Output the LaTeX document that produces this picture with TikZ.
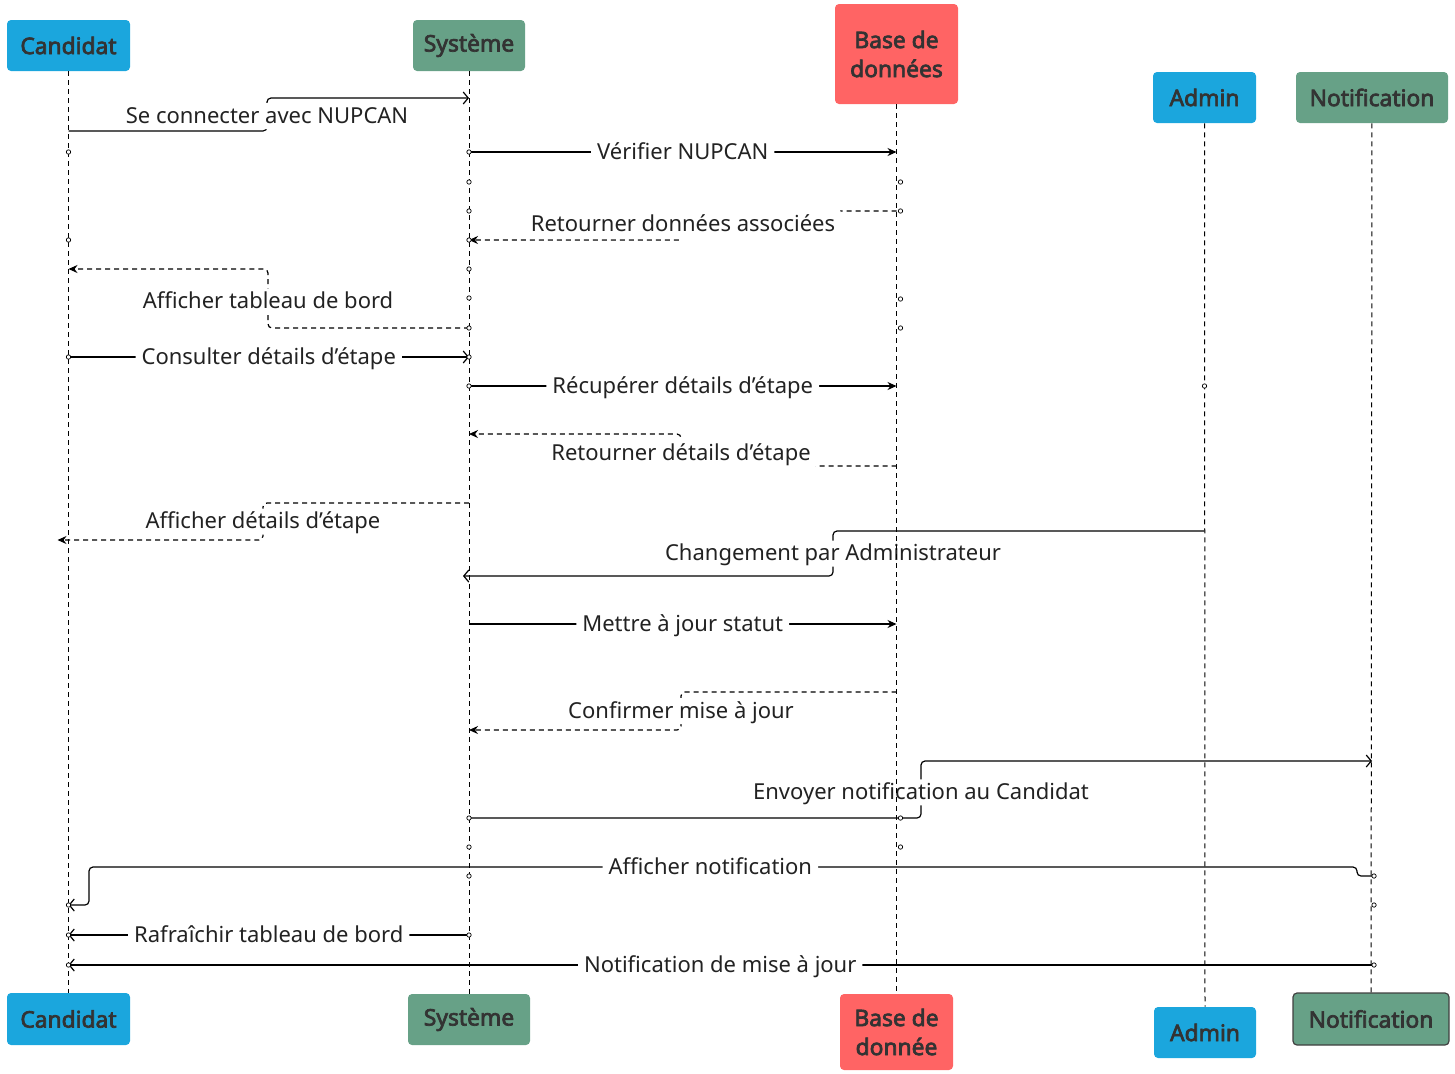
\documentclass[tikz,border=0pt]{standalone}
\usepackage{fontspec}
\setmainfont{Noto Sans}[AutoFakeBold=3]
\usetikzlibrary{arrows.meta}

\definecolor{candblue}{HTML}{1BA6DD}
\definecolor{sysgreen}{HTML}{67A187}
\definecolor{dbred}{HTML}{FF6464}
\definecolor{actortext}{HTML}{333333}
\definecolor{labeltext}{HTML}{222222}

\tikzset{
  actor/.style={rectangle, rounded corners=2pt, inner sep=0pt, align=center,
    font=\bfseries\fontsize{11.4}{14.5}\selectfont, text=actortext},
  lifeline/.style={line width=0.5pt, dash pattern=on 2.5pt off 2pt},
  msg/.style={line width=0.6pt, rounded corners=2pt},
  reply/.style={msg, dash pattern=on 2.5pt off 2pt},
  filltip/.style={-{Stealth[length=4.5pt,width=4pt]}},
  opentip/.style={-{Straight Barb[length=2.5pt,width=6pt]}},
  lbl/.style={fill=white, text=labeltext, font=\fontsize{11}{13}\selectfont,
    inner xsep=3pt, inner ysep=0.5pt, text height=9.5pt, text depth=2.5pt},
  dot/.style={circle, draw, fill=white, inner sep=0pt, minimum size=2.2pt, line width=0.35pt}
}

\begin{document}
\begin{tikzpicture}[x=0.5pt, y=-0.5pt]
    \useasboundingbox (0,0) rectangle (1455,1073);

    % Actors (top)
    \node[actor, fill=candblue, minimum width=61.5pt, minimum height=25.5pt] (cand1) at (68.5,45.5) {Candidat};
    \node[actor, fill=sysgreen, minimum width=56pt, minimum height=25.5pt] (sys1) at (469,45.5) {\raisebox{-1pt}{Système}};
    \node[actor, fill=dbred, minimum width=61.5pt, minimum height=50pt] (bdd1) at (896.5,54) {Base de\\données};
    \node[actor, fill=candblue, minimum width=51.5pt, minimum height=25.5pt] (adm1) at (1204.5,97.5) {Admin};
    \node[actor, fill=sysgreen, minimum width=76pt, minimum height=25.5pt] (notif1) at (1372,97.5) {Notification};

    % Actors (bottom)
    \node[actor, fill=candblue, minimum width=61.5pt, minimum height=26pt] (cand2) at (68.5,1019) {Candidat};
    \node[actor, fill=sysgreen, minimum width=61pt, minimum height=25.5pt] (sys2) at (469,1019.5) {\raisebox{-1pt}{Système}};
    \node[actor, fill=dbred, minimum width=56.5pt, minimum height=38pt] (bdd2) at (896.5,1032) {Base de\\donnée};
    \node[actor, fill=candblue, minimum width=51pt, minimum height=25.5pt] (adm2) at (1205,1032.5) {Admin};
    \node[actor, fill=sysgreen, draw=black!75, line width=0.6pt, minimum width=78pt, minimum height=26pt] (notif2) at (1371,1019) {Notification};

    % Connexion et tableau de bord
    \draw[msg, opentip] (cand1 |- 0,131) -- (267,131) -- node[lbl, pos=0.45] {Se connecter avec NUPCAN} (267,98) -- (sys1 |- 0,98);
    \draw[msg, filltip] (sys1 |- 0,152) -- node[lbl, midway] {Vérifier NUPCAN} (bdd1 |- 0,152);
    \draw[reply, filltip] (bdd1 |- 0,211) -- (683,211) -- node[lbl, pos=0.45, inner ysep=1.5pt] {Retourner données associées} (683,240) -- (sys1 |- 0,240);
    \draw[reply, filltip] (sys1 |- 0,328) -- (268,328) -- node[lbl, pos=0.45] {Afficher tableau de bord} (268,269) -- (cand1 |- 0,269);

    % Détails d'étape
    \draw[msg, opentip] (cand1 |- 0,357) -- node[lbl, midway] {Consulter détails d’étape} (sys1 |- 0,357);
    \draw[msg, filltip] (sys1 |- 0,386) -- node[lbl, midway] {Récupérer détails d’étape} (bdd1 |- 0,386);
    \draw[reply, filltip] (bdd1 |- 0,466) -- (681,466) -- node[lbl, pos=0.4, inner ysep=1.5pt] {Retourner détails d’étape} (681,434) -- (sys1 |- 0,434);
    \draw[reply, filltip, shorten >=-5.5pt] (sys1 |- 0,503) -- (263,503) -- node[lbl, midway] {Afficher détails d’étape} (263,540) -- (cand1 |- 0,540);

    % Changement par l'administrateur
    \draw[msg, opentip, shorten >=-3pt] (adm1 |- 0,531) -- (833,531) -- node[lbl, midway] {Changement par Administrateur} (833,576) -- (sys1 |- 0,576);
    \draw[msg, filltip] (sys1 |- 0,624) -- node[lbl, midway] {Mettre à jour statut} (bdd1 |- 0,624);
    \draw[reply, filltip] (bdd1 |- 0,692) -- (681,692) -- node[lbl, midway] {Confirmer mise à jour} (681,730) -- (sys1 |- 0,730);

    % Notifications
    \draw[msg, opentip] (sys1 |- 0,818) -- (921,818) -- node[lbl, pos=0.45] {Envoyer notification au Candidat} (921,761) -- (notif1 |- 0,761);
    \draw[msg, opentip] (notif1 |- 0,876) -- (1357,876) -- (1357,867) -- node[lbl, pos=0.51] {Afficher notification} (89,867) -- (89,905) -- (cand1 |- 0,905);
    \draw[msg, opentip] (sys1 |- 0,935) -- node[lbl, midway] {Rafraîchir tableau de bord} (cand1 |- 0,935);
    \draw[msg, opentip] (notif1 |- 0,965) -- node[lbl, midway] {Notification de mise à jour} (cand1 |- 0,965);

    % Lifelines
    \draw[lifeline] (cand1) -- (cand2);
    \draw[lifeline] (sys1) -- (sys2);
    \draw[lifeline] (bdd1) -- (bdd2);
    \draw[lifeline] (adm1) -- (adm2);
    \draw[lifeline] (notif1) -- (notif2);

    % Points d'activation
    \foreach \y in {152,240,357,905,935,965}
        \node[dot] at (cand1 |- 0,\y) {};
    \foreach \y in {152,182,211,240,269,298,328,357,386,818,847,876,935}
        \node[dot] at (sys1 |- 0,\y) {};
    \foreach \y in {182,211,299,328,818,847}
        \node[dot] at ([xshift=2pt]bdd1 |- 0,\y) {};
    \node[dot] at (adm1 |- 0,386) {};
    \foreach \y in {876,905,965}
        \node[dot] at ([xshift=1pt]notif1 |- 0,\y) {};
\end{tikzpicture}
\end{document}
